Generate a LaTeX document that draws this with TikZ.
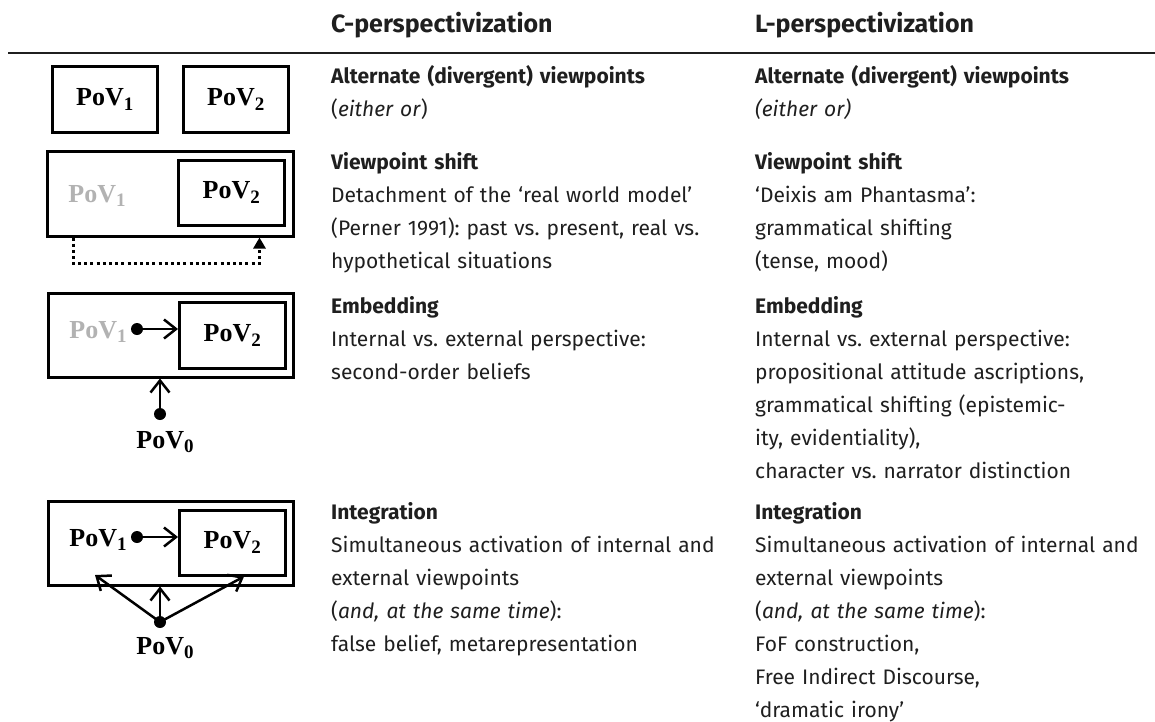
\documentclass[tikz,border=0pt]{standalone}
\usepackage{fontspec}
\setmainfont{Fira Sans}
\newfontfamily\povfont{Liberation Serif}
\usetikzlibrary{arrows.meta,positioning}
\frenchspacing

\newcommand{\pov}[1]{{\povfont\bfseries PoV\raisebox{-0.18em}{\fontsize{19}{19}\selectfont #1}}}

\tikzset{
    box/.style={draw, line width=2.5pt, inner sep=0pt, anchor=north west, font=\fontsize{26}{26}\selectfont},
    smallbox/.style={box, minimum width=105pt, minimum height=66pt},
    outerbox/.style={box, minimum width=245pt, minimum height=84pt},
    innerbox/.style={box, minimum width=106pt, minimum height=65pt},
    povlabel/.style={inner sep=0pt, font=\fontsize{26}{26}\selectfont},
    cell/.style={anchor=base west, inner sep=0pt, text width=410pt, align=left, text=ink, font=\fontsize{21}{33}\selectfont},
    head/.style={anchor=base west, inner sep=0pt, text=ink, font=\fontsize{25}{25}\selectfont\bfseries},
    dot/.style={circle, fill, inner sep=0pt, minimum size=12pt},
    arr/.style={-{Straight Barb[length=12pt,width=19pt]}, line width=2.5pt},
}

\begin{document}
\begin{tikzpicture}[x=1pt, y=-1pt]
    \colorlet{ink}{black!88}
    \colorlet{faded}{black!30}

    \useasboundingbox (0,0) rectangle (1155,721);

    % headings and rule
    \node[head] (hc) at (331,32) {C-perspectivization};
    \node[head] (hl) at (755,32) {L-perspectivization};
    \draw[ink, line width=1.5pt] (8,53) -- (1155,53);

    % row 1: alternate viewpoints
    \node[smallbox] (alt1) at (51,65) {\pov{1}};
    \node[smallbox] (alt2) at (182,65) {\pov{2}};

    % row 2: viewpoint shift
    \node[outerbox, minimum width=246pt, minimum height=85pt] (shout) at (46,150) {};
    \node[innerbox] (shin) at (177,159) {\pov{2}};
    \node[povlabel, faded] (shp1) at (97,196) {\pov{1}};
    \draw[line width=3pt, dash pattern=on 3pt off 3.2pt, -{Triangle[length=11pt,width=12pt]}]
        ([xshift=27pt]shout.south west) -- ++(0,26) -| ([xshift=-35pt]shout.south east);

    % row 3: embedding
    \node[outerbox] (emout) at (47,292) {};
    \node[innerbox, minimum height=66pt] (emin) at (178,301) {\pov{2}};
    \node[povlabel, faded] (emp1) at (98,332) {\pov{1}};
    \node[dot] (emd1) at (137,329) {};
    \draw[arr] (emd1.center) -- (emd1 -| emin.west);
    \node[dot] (emd0) at (160,414) {};
    \node[povlabel] (emp0) at (165,442) {\pov{0}};
    \draw[arr] (emd0.center) -- (emd0 |- emout.south);

    % row 4: integration
    \node[outerbox] (inout) at (47,500) {};
    \node[innerbox] (inin) at (178,509) {\pov{2}};
    \node[povlabel] (inp1) at (98,540) {\pov{1}};
    \node[dot] (ind1) at (137,537) {};
    \draw[arr] (ind1.center) -- (ind1 -| inin.west);
    \node[dot] (ind0) at (160,622) {};
    \node[povlabel] (inp0) at (165,648) {\pov{0}};
    \coordinate (inl) at (95,575);
    \coordinate (inr) at ([xshift=66pt]inin.south west);
    \draw[arr] (ind0.center) -- (ind0 |- inout.south);
    \draw[arr] (ind0.center) -- (inl);
    \draw[arr] (ind0.center) -- (inr);

    % C-perspectivization column
    \node[cell] (c1) at (331,83) {\textbf{Alternate (divergent) viewpoints}\\(\textit{either or})};
    \node[cell] (c2) at (331,169) {\textbf{Viewpoint shift}\\Detachment of the ‘real world model’\\(Perner 1991): past vs. present, real vs.\\hypothetical situations};
    \node[cell] (c3) at (331,313) {\textbf{Embedding}\\Internal vs. external perspective:\\second-order beliefs};
    \node[cell] (c4) at (331,519) {\textbf{Integration}\\Simultaneous activation of internal and\\external viewpoints\\(\textit{and, at the same time}):\\false belief, metarepresentation};

    % L-perspectivization column
    \node[cell] (l1) at (755,83) {\textbf{Alternate (divergent) viewpoints}\\\textit{(either or)}};
    \node[cell] (l2) at (755,169) {\textbf{Viewpoint shift}\\‘Deixis am Phantasma’:\\grammatical shifting\\(tense, mood)};
    \node[cell] (l3) at (755,313) {\textbf{Embedding}\\Internal vs. external perspective:\\propositional attitude ascriptions,\\grammatical shifting (epistemic-\\ity, evidentiality),\\character vs. narrator distinction};
    \node[cell] (l4) at (755,519) {\textbf{Integration}\\Simultaneous activation of internal and\\external viewpoints\\(\textit{and, at the same time}):\\FoF construction,\\Free Indirect Discourse,\\‘dramatic irony’};

\end{tikzpicture}
\end{document}
